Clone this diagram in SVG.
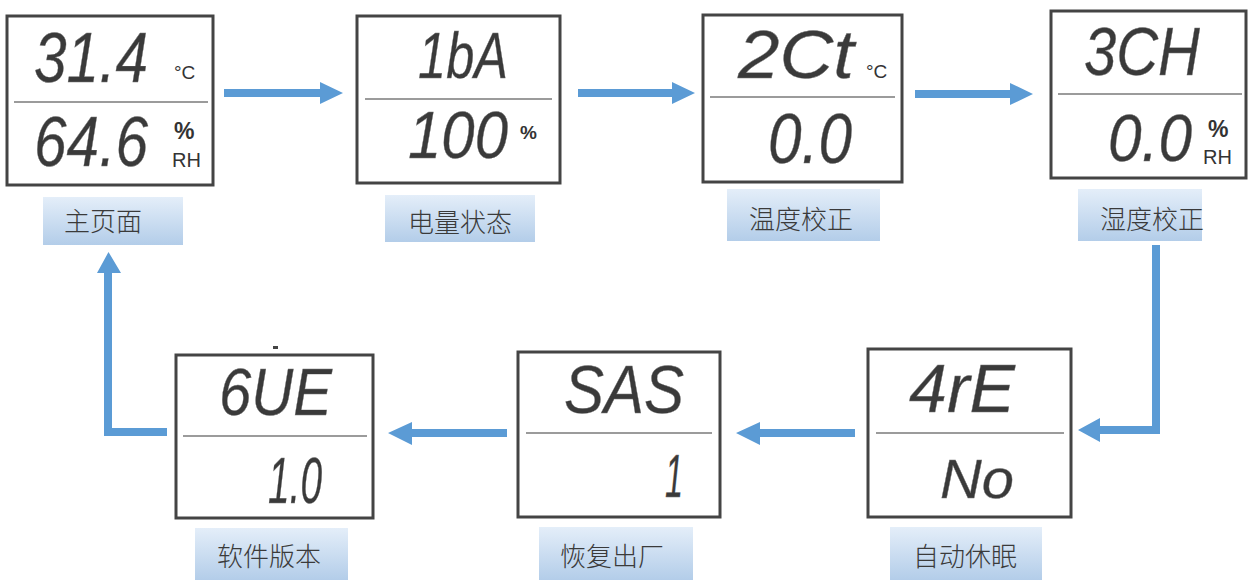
<svg xmlns="http://www.w3.org/2000/svg" width="1252" height="580" viewBox="0 0 1252 580">
<defs>
<linearGradient id="lg" x1="0" y1="0" x2="0" y2="1">
<stop offset="0" stop-color="#e4eef9"/>
<stop offset="1" stop-color="#b3cde9"/>
</linearGradient>
<style>
.box{fill:#fff;stroke:#444;stroke-width:3}
.div{stroke:#7a7a7a;stroke-width:1.6}
.seg{font-family:"Liberation Sans",Arial,sans-serif;font-style:italic;fill:#3a3a3a;stroke:#777;stroke-width:0.4}
.unit{font-family:"Liberation Sans",Arial,sans-serif;fill:#333}
.b{font-weight:bold}
.lab{fill:url(#lg)}
.lt{font-family:"Noto Sans CJK SC",sans-serif;font-size:26px;fill:#3a3a3a;text-anchor:middle;font-weight:300}
.arr{fill:#5b9bd5}
</style>
</defs>

<g id="connectors">
<polygon class="arr" points="224,89 320,89 320,82 343,93 320,104 320,97 224,97"/>
<polygon class="arr" points="578,89 672,89 672,82 695,93 672,104 672,97 578,97"/>
<polygon class="arr" points="915,90 1010,90 1010,83 1033,94 1010,105 1010,98 915,98"/>
<polygon class="arr" points="1152,245 1160,245 1160,434 1100,434 1100,442 1078,430 1100,418 1100,426 1152,426"/>
<polygon class="arr" points="507,429 412,429 412,422 388,433 412,445 412,437 507,437"/>
<polygon class="arr" points="855,429 760,429 760,422 736,433 760,445 760,437 855,437"/>
<polygon class="arr" points="167,428 167,436 104,436 104,273 97,273 108.5,252 121,273 112,273 112,428"/>
</g>

<g id="node-main">
<rect class="box" x="7" y="16" width="206" height="169"/>
<line class="div" x1="14" y1="102" x2="208" y2="102"/>
<text class="seg" x="34" y="82" font-size="70" textLength="114" lengthAdjust="spacingAndGlyphs">31.4</text>
<text class="unit" x="174" y="79" font-size="19">°C</text>
<text class="seg" x="34" y="166" font-size="70" textLength="114" lengthAdjust="spacingAndGlyphs">64.6</text>
<text class="unit b" x="174" y="139" font-size="23">%</text>
<text class="unit" x="172" y="167" font-size="20">RH</text>
<rect class="lab" x="43" y="197" width="140" height="48"/>
<text class="lt" x="103" y="231">主页面</text>
</g>

<g id="node-battery">
<rect class="box" x="357" y="16" width="203" height="167"/>
<line class="div" x1="365" y1="99" x2="552" y2="99"/>
<text class="seg" x="418" y="78" font-size="64" textLength="90" lengthAdjust="spacingAndGlyphs">1bA</text>
<text class="seg" x="408" y="158" font-size="66" textLength="100" lengthAdjust="spacingAndGlyphs">100</text>
<text class="unit b" x="520" y="139" font-size="19">%</text>
<rect class="lab" x="385" y="195" width="150" height="47"/>
<text class="lt" x="460" y="232">电量状态</text>
</g>

<g id="node-tempcal">
<rect class="box" x="703" y="15" width="199" height="167"/>
<line class="div" x1="710" y1="97" x2="895" y2="97"/>
<text class="seg" x="738" y="78" font-size="68" textLength="116" lengthAdjust="spacingAndGlyphs">2Ct</text>
<text class="unit" x="866" y="78" font-size="19">°C</text>
<text class="seg" x="768" y="163" font-size="70" textLength="84" lengthAdjust="spacingAndGlyphs">0.0</text>
<rect class="lab" x="727" y="189" width="153" height="52"/>
<text class="lt" x="801" y="229">温度校正</text>
</g>

<g id="node-humcal">
<rect class="box" x="1051" y="11" width="195" height="167"/>
<line class="div" x1="1058" y1="94" x2="1242" y2="94"/>
<text class="seg" x="1084" y="75" font-size="68" textLength="116" lengthAdjust="spacingAndGlyphs">3CH</text>
<text class="seg" x="1108" y="161" font-size="66" textLength="84" lengthAdjust="spacingAndGlyphs">0.0</text>
<text class="unit b" x="1208" y="137" font-size="23">%</text>
<text class="unit" x="1203" y="164" font-size="20">RH</text>
<rect class="lab" x="1078" y="189" width="124" height="52"/>
<text class="lt" x="1152" y="229">湿度校正</text>
</g>

<g id="node-sleep">
<rect class="box" x="868" y="349" width="203" height="168"/>
<line class="div" x1="876" y1="433" x2="1064" y2="433"/>
<text class="seg" x="909" y="412" font-size="68" textLength="106" lengthAdjust="spacingAndGlyphs">4rE</text>
<text class="seg" x="940" y="498" font-size="56" textLength="74" lengthAdjust="spacingAndGlyphs">No</text>
<rect class="lab" x="890" y="527" width="152" height="53"/>
<text class="lt" x="965" y="566">自动休眠</text>
</g>

<g id="node-reset">
<rect class="box" x="518" y="352" width="202" height="165"/>
<line class="div" x1="526" y1="433" x2="712" y2="433"/>
<text class="seg" x="564" y="413" font-size="68" textLength="120" lengthAdjust="spacingAndGlyphs">SAS</text>
<text class="seg" x="665" y="497" font-size="62" textLength="18" lengthAdjust="spacingAndGlyphs">1</text>
<rect class="lab" x="539" y="527" width="154" height="53"/>
<text class="lt" x="612" y="566">恢复出厂</text>
</g>

<g id="node-version">
<rect class="box" x="176" y="355" width="197" height="163"/>
<line class="div" x1="183" y1="436" x2="367" y2="436"/>
<rect x="273" y="346" width="5" height="3" fill="#444"/>
<text class="seg" x="219" y="415" font-size="66" textLength="113" lengthAdjust="spacingAndGlyphs">6UE</text>
<text class="seg" x="268" y="503" font-size="64" textLength="54" lengthAdjust="spacingAndGlyphs">1.0</text>
<rect class="lab" x="195" y="528" width="153" height="52"/>
<text class="lt" x="269" y="566">软件版本</text>
</g>
</svg>
